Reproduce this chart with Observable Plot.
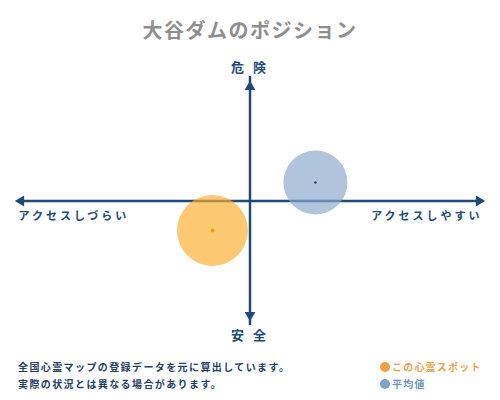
<!DOCTYPE html>
<html><head><meta charset="utf-8">
<script src="https://cdn.jsdelivr.net/npm/d3@7"></script>
<script src="https://cdn.jsdelivr.net/npm/@observablehq/plot@0.6"></script>
<style>
body{margin:0;background:#fff;width:500px;height:400px;overflow:hidden;font-family:"Noto Sans CJK JP",sans-serif;}
#title{height:50px;line-height:60px;text-align:center;font-size:20px;font-weight:700;color:#8e8e8e;letter-spacing:1.5px;}
#chart svg{display:block;}
#chart svg text{white-space:pre;}
#foot{position:relative;height:50px;}
.note{position:absolute;left:18px;font-size:10px;font-weight:700;color:#1f3f66;letter-spacing:1.4px;white-space:nowrap;}
.leg{position:absolute;left:380px;font-size:10px;font-weight:700;letter-spacing:1.2px;white-space:nowrap;}
.leg span{display:inline-block;width:10px;height:10px;border-radius:50%;vertical-align:-1px;margin-right:2px;}
</style></head>
<body>
<div id="title"></div>
<div id="chart"></div>
<div id="foot"></div>
<script>
const title = "大谷ダムのポジション";
const axisLabels = {top: "危 険", bottom: "安 全", left: "アクセスしづらい", right: "アクセスしやすい"};
const seriesNames = ["この心霊スポット", "平均値"];
const xValues = [-16, 27.9];
const yValues = [-24.7, 15.5];
const radii = [35.5, 32];
const notes = ["全国心霊マップの登録データを元に算出しています。", "実際の状況とは異なる場合があります。"];

const data = seriesNames.map((name, i) => ({name, x: xValues[i], y: yValues[i], r: radii[i]}));
const fills = {"この心霊スポット": "#fcb030", "平均値": "#8aa8cc"};
const centers = {"この心霊スポット": "#f5a000", "平均値": "#1f3f66"};
const navy = "#1e4a78";

document.getElementById("title").textContent = title;

const chart = Plot.plot({
  width: 500, height: 300,
  marginLeft: 15, marginRight: 16, marginTop: 31, marginBottom: 30,
  x: {domain: [-100, 100], axis: null},
  y: {domain: [-100, 100], axis: null},
  r: {type: "identity"},
  style: {fontFamily: "Noto Sans CJK JP", overflow: "visible"},
  marks: [
    Plot.ruleY([0], {x1: -100, x2: 100, stroke: navy, strokeWidth: 2.5, insetLeft: 5, insetRight: 5}),
    Plot.ruleX([0], {y1: -100, y2: 100, stroke: navy, strokeWidth: 2.5, insetTop: 5, insetBottom: 5}),
    Plot.dot([{x: 100, y: 0, a: 90}, {x: -100, y: 0, a: -90}], {x: "x", y: "y", rotate: "a", symbol: "triangle", r: 4, fill: navy, stroke: "none"}),
    Plot.dot([{x: 0, y: 100, a: 0}, {x: 0, y: -100, a: 180}], {x: "x", y: "y", rotate: "a", symbol: "triangle", r: 4, fill: navy, stroke: "none"}),
    Plot.dot(data, {x: "x", y: "y", r: "r", fill: d => fills[d.name], fillOpacity: 0.68, stroke: "none"}),
    Plot.dot(data, {x: "x", y: "y", r: d => d.name === seriesNames[0] ? 2 : 1.2, fill: d => centers[d.name], stroke: "none"}),
    Plot.text([axisLabels.top], {frameAnchor: "top", lineAnchor: "middle", dy: -13.5, fill: navy, fontSize: 13, fontWeight: "bold"}),
    Plot.text([axisLabels.bottom], {frameAnchor: "bottom", lineAnchor: "middle", dy: 15.5, fill: navy, fontSize: 13, fontWeight: "bold"}),
    Plot.text([axisLabels.left], {frameAnchor: "left", textAnchor: "start", dx: 3, dy: 15.5, fill: navy, fontSize: 11, fontWeight: "bold"}),
    Plot.text([axisLabels.right], {frameAnchor: "right", textAnchor: "end", dx: -2, dy: 15.5, fill: navy, fontSize: 11, fontWeight: "bold"})
  ]
});
document.getElementById("chart").appendChild(chart);
d3.select(chart).selectAll("text").each(function(){
  const t = this.textContent;
  if (t === axisLabels.left || t === axisLabels.right) this.setAttribute("letter-spacing", "3");
  if (t === axisLabels.top || t === axisLabels.bottom) this.setAttribute("letter-spacing", "3");
});
const tri = d3.select(chart).selectAll("g[aria-label=dot]").filter((d,i)=>i<2);
tri.each(function(_, gi){
  d3.select(this).selectAll("path").each(function(_, i){
    const tr = this.getAttribute("transform");
    const m = /translate\(([^,]+),([^)]+)\)(.*)/.exec(tr);
    if (!m) return;
    let x = +m[1], y = +m[2];
    if (gi === 0) x += (i === 0 ? -5.5 : 5.5); else y += (i === 0 ? 5.5 : -5.5);
    this.setAttribute("transform", `translate(${x},${y})${m[3]}`);
  });
});

const foot = document.getElementById("foot");
notes.forEach((n, i) => {
  const d = document.createElement("div");
  d.className = "note"; d.style.top = (9 + i * 17) + "px"; d.textContent = n;
  foot.appendChild(d);
});
const legColors = ["#f0a040", "#7fa3c8"];
const legText = ["#e8a24a", "#6f95bf"];
seriesNames.forEach((n, i) => {
  const d = document.createElement("div");
  d.className = "leg"; d.style.top = (9 + i * 17) + "px"; d.style.color = legText[i];
  const s = document.createElement("span"); s.style.background = legColors[i];
  d.appendChild(s); d.appendChild(document.createTextNode(n));
  foot.appendChild(d);
});
</script>
</body></html>
